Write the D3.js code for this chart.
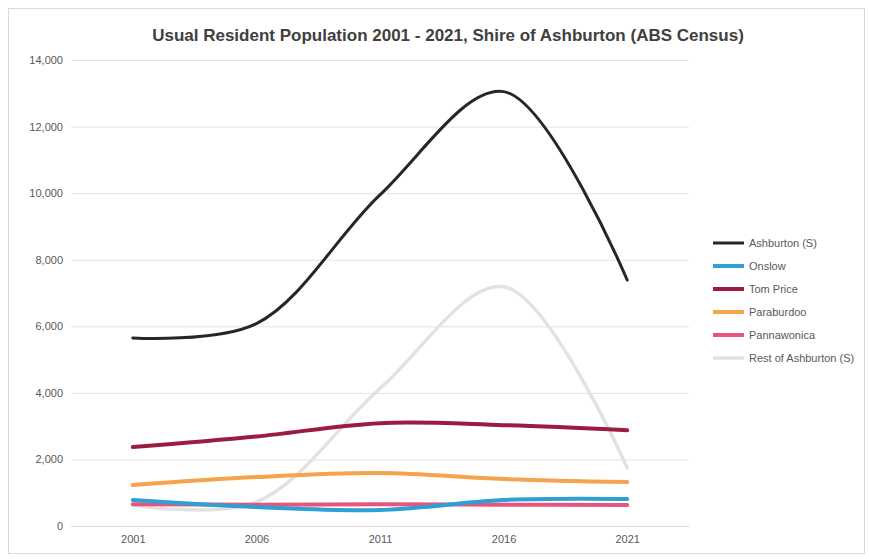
<!DOCTYPE html>
<html>
<head>
<meta charset="utf-8">
<script src="https://cdn.jsdelivr.net/npm/d3@7"></script>
<style>
  html, body { margin: 0; padding: 0; background: #ffffff; }
  svg { display: block; font-family: "Liberation Sans", Arial, sans-serif; }
</style>
</head>
<body>
<svg id="chart" width="869" height="559"></svg>
<script>
// Census years shown along the x axis
const years = ["2001", "2006", "2011", "2016", "2021"];

// Usual resident population by area, one array per series
const ashburtonTotal = [5650, 6080, 9950, 13050, 7390];
const onslow         = [780, 570, 480, 780, 810];
const tomPrice       = [2370, 2690, 3090, 3030, 2880];
const paraburdoo     = [1230, 1470, 1590, 1410, 1320];
const pannawonica    = [650, 640, 650, 640, 630];
const restOfShire    = [620, 720, 4130, 7190, 1750];

// Series names, in legend order
const seriesNames = ["Ashburton (S)", "Onslow", "Tom Price", "Paraburdoo", "Pannawonica", "Rest of Ashburton (S)"];
const seriesValues = [ashburtonTotal, onslow, tomPrice, paraburdoo, pannawonica, restOfShire];
const seriesColors = ["#262626", "#2f9fd4", "#9c1c40", "#f5a34c", "#e6557c", "#e2e2e2"];
const seriesWidths = [3, 4, 4, 4, 4, 3.5];

// Y axis ticks
const yTicks = [0, 2000, 4000, 6000, 8000, 10000, 12000, 14000];

const svg = d3.select("#chart");

// Chart area border
svg.append("rect")
  .attr("x", 8.5).attr("y", 8.5)
  .attr("width", 856).attr("height", 545)
  .attr("fill", "#fff").attr("stroke", "#d9d9d9");

const plot = { left: 71, right: 689, top: 60, bottom: 526 };

const x = d3.scalePoint()
  .domain(years)
  .range([plot.left, plot.right])
  .padding(0.5);

const y = d3.scaleLinear()
  .domain([0, 14000])
  .range([plot.bottom, plot.top]);

// Horizontal gridlines
svg.append("g")
  .selectAll("line")
  .data(yTicks)
  .join("line")
  .attr("x1", plot.left).attr("x2", plot.right)
  .attr("y1", d => y(d) + 0.5).attr("y2", d => y(d) + 0.5)
  .attr("stroke", "#e3e3e3");

// Y axis labels
const yAxis = svg.append("g")
  .attr("transform", `translate(${plot.left},0)`)
  .call(d3.axisLeft(y).tickValues(yTicks).tickFormat(d3.format(",")).tickSize(0).tickPadding(8));
yAxis.select(".domain").remove();
yAxis.selectAll("text").attr("font-size", 11).attr("fill", "#595959")
  .attr("font-family", "Liberation Sans, Arial, sans-serif");

// X axis
const xAxis = svg.append("g")
  .attr("transform", `translate(0,${plot.bottom})`)
  .call(d3.axisBottom(x).tickSize(0).tickPadding(9));
xAxis.select(".domain").attr("stroke", "#d9d9d9");
xAxis.selectAll("text").attr("font-size", 11).attr("fill", "#595959")
  .attr("font-family", "Liberation Sans, Arial, sans-serif");

// Smoothed series lines
const line = d3.line()
  .x((d, i) => x(years[i]))
  .y(d => y(d))
  .curve(d3.curveCatmullRom.alpha(0.5));

const drawOrder = [5, 4, 1, 3, 2, 0];
svg.append("g")
  .selectAll("path")
  .data(drawOrder)
  .join("path")
  .attr("d", k => line(seriesValues[k]))
  .attr("fill", "none")
  .attr("stroke", k => seriesColors[k])
  .attr("stroke-width", k => seriesWidths[k])
  .attr("stroke-linecap", "round");

// Title
svg.append("text")
  .attr("x", 448).attr("y", 41)
  .attr("text-anchor", "middle")
  .attr("font-size", 17).attr("font-weight", "bold")
  .attr("fill", "#404040")
  .text("Usual Resident Population 2001 - 2021, Shire of Ashburton (ABS Census)");

// Legend
const legend = svg.append("g").attr("transform", "translate(713,243)");
const item = legend.selectAll("g")
  .data(seriesNames)
  .join("g")
  .attr("transform", (d, i) => `translate(0,${i * 23})`);
item.append("line")
  .attr("x1", 0).attr("x2", 31)
  .attr("stroke", (d, i) => seriesColors[i])
  .attr("stroke-width", (d, i) => seriesWidths[i]);
item.append("text")
  .attr("x", 36).attr("dy", "0.35em")
  .attr("font-size", 11).attr("fill", "#595959")
  .text(d => d);
</script>
</body>
</html>
